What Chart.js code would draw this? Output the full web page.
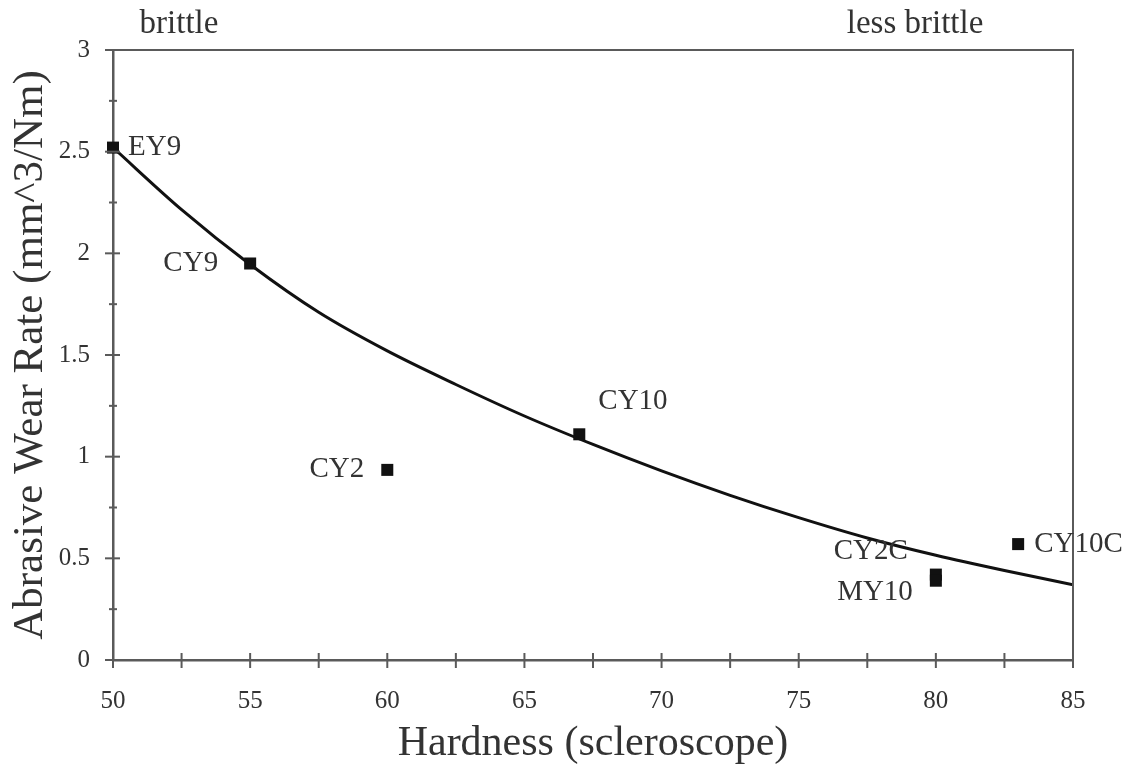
<!DOCTYPE html>
<html>
<head>
<meta charset="utf-8">
<script src="https://cdn.jsdelivr.net/npm/chart.js@4.4.1/dist/chart.umd.min.js"></script>
<style>
  html, body { margin: 0; padding: 0; background: #fff; }
  canvas { display: block; }
</style>
</head>
<body>
<canvas id="chart" width="1129" height="766"></canvas>
<script>
/* Dados */
const sampleNames    = ['EY9', 'CY9', 'CY2', 'CY10', 'CY2C', 'MY10', 'CY10C'];
const sampleHardness = [50, 55, 60, 67, 80, 80, 83];
const sampleWear     = [2.52, 1.95, 0.935, 1.11, 0.42, 0.39, 0.57];

/* Curva de ajuste (lida ponto a ponto) */
const fitHardness = [50, 52.5, 55, 57.5, 60, 62.5, 65, 67.5, 70, 72.5, 75, 77.5, 80, 82.5, 85];
const fitWear     = [2.52, 2.215, 1.945, 1.71, 1.52, 1.355, 1.20, 1.06, 0.93, 0.81, 0.70, 0.60, 0.515, 0.44, 0.37];

const topNotes = ['brittle', 'less brittle'];
const xTitle = 'Hardness (scleroscope)';
const yTitle = 'Abrasive Wear Rate (mm^3/Nm)';

const FONT = '"Liberation Serif", "Times New Roman", serif';
const INK = '#333';
const AXIS = '#5a5a5a';

/* posição dos rótulos em relação ao ponto (px) */
const labelPlacement = {
    'EY9':   { dx: 15,  dy: 0,   align: 'left' },
    'CY9':   { dx: -32, dy: 0,   align: 'right' },
    'CY2':   { dx: -23, dy: 0,   align: 'right' },
    'CY10':  { dx: 19,  dy: -33, align: 'left' },
    'CY2C':  { dx: -28, dy: -23, align: 'right' },
    'MY10':  { dx: -23, dy: 12,  align: 'right' },
    'CY10C': { dx: 16,  dy: 0,   align: 'left' }
};

const extras = {
    id: 'extras',
    afterDraw(chart) {
        const { ctx, chartArea: a, scales: { x, y } } = chart;
        ctx.save();

        // moldura superior e direita
        ctx.strokeStyle = AXIS;
        ctx.lineWidth = 2;
        ctx.beginPath();
        ctx.moveTo(a.left, a.top);
        ctx.lineTo(a.right, a.top);
        ctx.lineTo(a.right, a.bottom);
        ctx.stroke();

        // marcas cruzando os eixos
        x.ticks.forEach(t => {
            const px = x.getPixelForValue(t.value);
            ctx.beginPath();
            ctx.moveTo(px, a.bottom - 7);
            ctx.lineTo(px, a.bottom + 8);
            ctx.stroke();
        });
        y.ticks.forEach(t => {
            const py = y.getPixelForValue(t.value);
            const major = Math.abs(t.value * 2 - Math.round(t.value * 2)) < 1e-6;
            ctx.beginPath();
            ctx.moveTo(a.left - (major ? 8 : 4), py);
            ctx.lineTo(a.left + (major ? 7 : 4), py);
            ctx.stroke();
        });

        // brittle / less brittle
        ctx.fillStyle = INK;
        ctx.font = `33px ${FONT}`;
        ctx.textAlign = 'center';
        ctx.textBaseline = 'alphabetic';
        ctx.fillText(topNotes[0], 179, 33);
        ctx.fillText(topNotes[1], 915, 33);

        // rótulos das amostras
        ctx.font = `29px ${FONT}`;
        ctx.textBaseline = 'middle';
        sampleNames.forEach((nome, i) => {
            const p = labelPlacement[nome];
            const px = x.getPixelForValue(sampleHardness[i]);
            const py = y.getPixelForValue(sampleWear[i]);
            ctx.textAlign = p.align;
            ctx.fillText(nome, px + p.dx, py + p.dy);
        });

        ctx.restore();
    }
};

new Chart(document.getElementById('chart'), {
    type: 'scatter',
    data: {
        datasets: [
            {
                label: 'fit',
                data: fitHardness.map((h, i) => ({ x: h, y: fitWear[i] })),
                showLine: true,
                borderColor: '#111',
                borderWidth: 3,
                pointRadius: 0,
                cubicInterpolationMode: 'monotone',
                fill: false
            },
            {
                label: 'amostras',
                data: sampleHardness.map((h, i) => ({ x: h, y: sampleWear[i] })),
                pointStyle: 'rect',
                pointRadius: 8.5,
                backgroundColor: '#111',
                borderColor: '#111',
                borderWidth: 0,
                clip: false
            }
        ]
    },
    options: {
        responsive: false,
        animation: false,
        layout: { padding: { top: 50, right: 56, left: 0, bottom: 0 } },
        plugins: {
            legend: { display: false },
            tooltip: { enabled: false }
        },
        scales: {
            x: {
                type: 'linear',
                min: 50,
                max: 85,
                afterFit: s => { s.height = 106; },
                grid: { display: false, drawTicks: false },
                border: { display: true, color: AXIS, width: 2.5 },
                ticks: {
                    stepSize: 2.5,
                    autoSkip: false,
                    maxRotation: 0,
                    padding: 26,
                    color: INK,
                    font: { family: FONT, size: 25 },
                    callback: v => (v % 5 === 0 ? String(v) : '')
                },
                title: {
                    display: true,
                    text: xTitle,
                    color: INK,
                    font: { family: FONT, size: 42, lineHeight: 1 },
                    padding: { top: 0, bottom: 1 }
                }
            },
            y: {
                min: 0,
                max: 3,
                afterFit: s => { s.width = 113; },
                grid: { display: false, drawTicks: false },
                border: { display: true, color: AXIS, width: 2.5 },
                ticks: {
                    stepSize: 0.25,
                    autoSkip: false,
                    padding: 23,
                    color: INK,
                    font: { family: FONT, size: 25 },
                    callback: v => (Math.abs(v * 2 - Math.round(v * 2)) < 1e-6 ? String(v) : '')
                },
                title: {
                    display: true,
                    text: yTitle,
                    color: INK,
                    font: { family: FONT, size: 43, lineHeight: 1 },
                    padding: { top: 9, bottom: 0 }
                }
            }
        }
    },
    plugins: [extras]
});
</script>
</body>
</html>
